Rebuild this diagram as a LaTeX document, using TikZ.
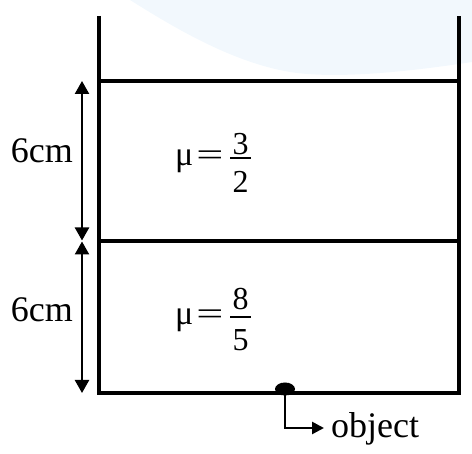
\documentclass[tikz,border=0pt]{standalone}
\usepackage{fontspec}
\setmainfont{Liberation Serif}
\usetikzlibrary{arrows.meta}
\definecolor{wm}{HTML}{F2F8FD}
\tikzset{
  wall/.style={line width=3.6pt},
  dimarrow/.style={line width=2.4pt,{Triangle[length=13pt,width=14pt]}-{Triangle[length=13pt,width=14pt]}},
  lbl/.style={inner sep=0pt,font=\fontsize{36}{40}\selectfont},
  eqtxt/.style={inner sep=0pt,font=\fontsize{32}{36}\selectfont},
  mutxt/.style={inner sep=0pt,font=\fontsize{34}{38}\selectfont},
  fracbar/.style={line width=2pt},
}
\begin{document}
\begin{tikzpicture}[x=1pt,y=-1pt]
\useasboundingbox (0,0) rectangle (472,454);
% faint watermark
\fill[wm] (130,0) .. controls (170,25) and (230,62) .. (290,72) .. controls (340,80) and (420,70) .. (472,62) -- (472,0) -- cycle;
% container
\coordinate (tl) at (99,16);
\coordinate (bl) at (99,393);
\coordinate (tr) at (459,16);
\coordinate (br) at (459,393);
\coordinate (l1) at (99,81);
\coordinate (r1) at (459,81);
\coordinate (l2) at (99,241);
\coordinate (r2) at (459,241);
\draw[wall] (tl) -- (bl) -- (br) -- (tr);
\draw[wall] (l1) -- (r1);
\draw[wall] (l2) -- (r2);
% dimension arrows
\coordinate (a1) at (82,81);
\coordinate (a2) at (82,240.5);
\coordinate (a3) at (82,241.5);
\coordinate (a4) at (82,393);
\draw[dimarrow] (a1) -- (a2);
\draw[dimarrow] (a3) -- (a4);
\node[lbl,anchor=base east] (d1) at (73,163) {6cm};
\node[lbl,anchor=base east] (d2) at (73,322) {6cm};
% upper medium
\node[mutxt,anchor=base west] (mu1) at (175,166) {μ};
\node[eqtxt,anchor=center] (eq1) at (210,158) {\scalebox{1.5}[1]{=}};
\coordinate (fb1l) at (230,158);
\coordinate (fb1r) at (251,158);
\draw[fracbar] (fb1l) -- (fb1r);
\node[eqtxt,anchor=base] (n1) at (240.5,155) {3};
\node[eqtxt,anchor=base] (m1) at (240.5,193) {2};
% lower medium
\node[mutxt,anchor=base west] (mu2) at (175,325) {μ};
\node[eqtxt,anchor=center] (eq2) at (210,317) {\scalebox{1.5}[1]{=}};
\coordinate (fb2l) at (230,317);
\coordinate (fb2r) at (251,317);
\draw[fracbar] (fb2l) -- (fb2r);
\node[eqtxt,anchor=base] (n2) at (240.5,310) {8};
\node[eqtxt,anchor=base] (m2) at (240.5,351) {5};
% object
\fill (285,389) ellipse [x radius=10pt,y radius=6.5pt];
\coordinate (obj) at (285,389);
\coordinate (bend) at (285,428);
\coordinate (tip) at (324,428);
\draw[line width=2.6pt,-{Triangle[length=12pt,width=12pt]}] (obj) -- (bend) -- (tip);
\node[lbl,anchor=base west] (otxt) at (331,438) {object};
\end{tikzpicture}
\end{document}
